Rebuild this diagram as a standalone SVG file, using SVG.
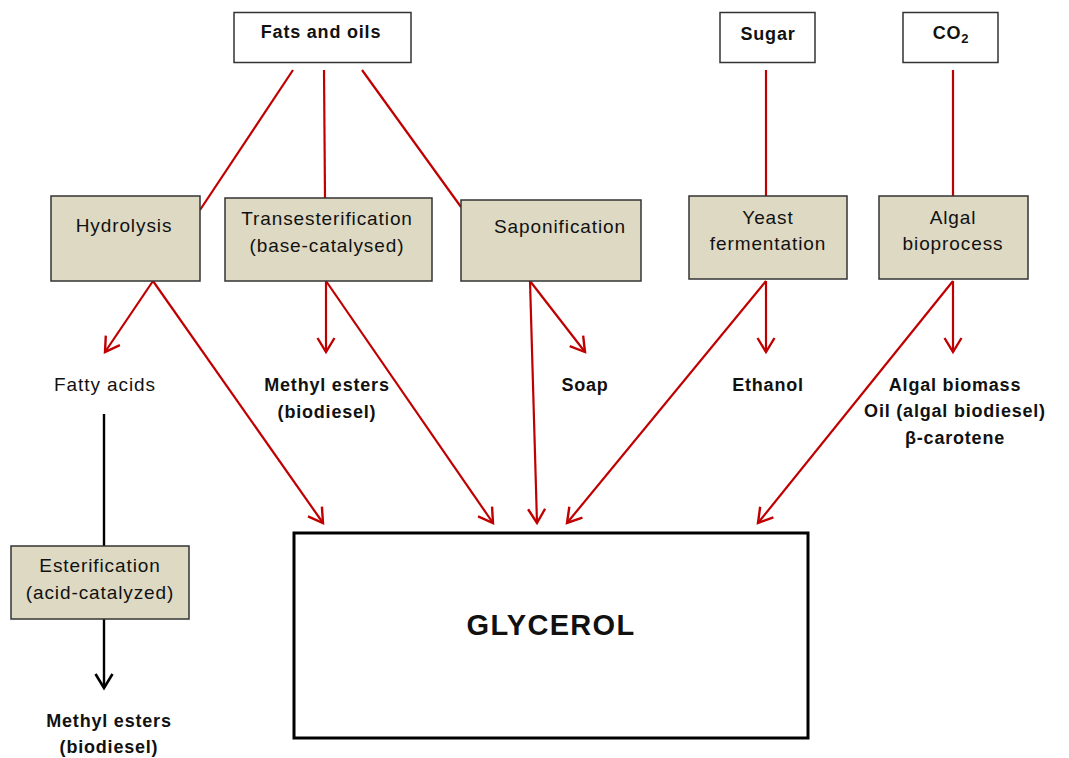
<svg xmlns="http://www.w3.org/2000/svg" width="1069" height="758" viewBox="0 0 1069 758">
<style>
text{font-family:"Liberation Sans",Arial,sans-serif;fill:#111;text-anchor:middle}
.n{font-size:19px;letter-spacing:0.9px}
.b{font-size:18px;font-weight:bold;letter-spacing:0.8px}
.src{fill:#fff;stroke:#333;stroke-width:1.5}
.proc{fill:#DDD9C3;stroke:#333;stroke-width:1.5}
.red{stroke:#C00000;stroke-width:2.2;fill:none}
.blk{stroke:#000;stroke-width:2.4;fill:none}
</style>
<defs>
<marker id="ar" markerUnits="userSpaceOnUse" markerWidth="30" markerHeight="30" viewBox="-15 -15 30 30" refX="0" refY="0" orient="auto">
<path d="M-14,-8.5 L0,0 L-14,8.5" fill="none" stroke="#C00000" stroke-width="2.4"/>
</marker>
<marker id="ab" markerUnits="userSpaceOnUse" markerWidth="30" markerHeight="30" viewBox="-15 -15 30 30" refX="0" refY="0" orient="auto">
<path d="M-14,-8.5 L0,0 L-14,8.5" fill="none" stroke="#000" stroke-width="2.6"/>
</marker>
</defs>
<g id="connectors">
<line class="red" x1="293" y1="70" x2="200" y2="210"/>
<line class="red" x1="324" y1="70" x2="325" y2="198"/>
<line class="red" x1="362" y1="70" x2="461" y2="207"/>
<line class="red" x1="766" y1="70" x2="766" y2="196"/>
<line class="red" x1="953" y1="70" x2="953" y2="196"/>
<line class="red" x1="153" y1="281" x2="105" y2="352" marker-end="url(#ar)"/>
<line class="red" x1="153" y1="281" x2="323" y2="523" marker-end="url(#ar)"/>
<line class="red" x1="326" y1="281" x2="326" y2="352" marker-end="url(#ar)"/>
<line class="red" x1="326" y1="281" x2="493" y2="523" marker-end="url(#ar)"/>
<line class="red" x1="530" y1="281" x2="537" y2="523" marker-end="url(#ar)"/>
<line class="red" x1="530" y1="281" x2="585" y2="352" marker-end="url(#ar)"/>
<line class="red" x1="766" y1="281" x2="766" y2="352" marker-end="url(#ar)"/>
<line class="red" x1="766" y1="281" x2="567" y2="523" marker-end="url(#ar)"/>
<line class="red" x1="953" y1="281" x2="953" y2="352" marker-end="url(#ar)"/>
<line class="red" x1="953" y1="281" x2="758" y2="523" marker-end="url(#ar)"/>
<line class="blk" x1="104" y1="414" x2="104" y2="546"/>
<line class="blk" x1="104" y1="619" x2="104" y2="688" marker-end="url(#ab)"/>
</g>
<g id="fats"><rect class="src" x="234" y="12.5" width="177" height="50"/><text class="b" x="321" y="38">Fats and oils</text></g>
<g id="sugar"><rect class="src" x="720" y="12.5" width="95" height="50"/><text class="b" x="768" y="40">Sugar</text></g>
<g id="co2"><rect class="src" x="903" y="12.5" width="95" height="50"/><text class="b" x="951" y="39">CO<tspan font-size="13" dy="4">2</tspan></text></g>
<g id="hydrolysis"><rect class="proc" x="51" y="196" width="149" height="85"/><text class="n" x="124" y="232">Hydrolysis</text></g>
<g id="transesterification"><rect class="proc" x="225" y="198" width="207" height="83"/><text class="n" x="327" y="225">Transesterification</text><text class="n" x="327" y="252">(base-catalysed)</text></g>
<g id="saponification"><rect class="proc" x="461" y="200" width="180" height="81"/><text class="n" x="560" y="233">Saponification</text></g>
<g id="yeast"><rect class="proc" x="689" y="196" width="158" height="83"/><text class="n" x="768" y="224">Yeast</text><text class="n" x="768" y="250">fermentation</text></g>
<g id="algal"><rect class="proc" x="879" y="196" width="149" height="83"/><text class="n" x="953" y="224">Algal</text><text class="n" x="953" y="250">bioprocess</text></g>
<g id="fatty-acids"><text class="n" x="105" y="391">Fatty acids</text></g>
<g id="methyl-esters-1"><text class="b" x="327" y="391">Methyl esters</text><text class="b" x="327" y="418">(biodiesel)</text></g>
<g id="soap"><text class="b" x="585" y="391">Soap</text></g>
<g id="ethanol"><text class="b" x="768" y="391">Ethanol</text></g>
<g id="algal-products"><text class="b" x="955" y="391">Algal biomass</text><text class="b" x="955" y="417">Oil (algal biodiesel)</text><text class="b" x="955" y="444">β-carotene</text></g>
<g id="esterification"><rect class="proc" x="11" y="546" width="178" height="73"/><text class="n" x="100" y="572">Esterification</text><text class="n" x="100" y="599">(acid-catalyzed)</text></g>
<g id="methyl-esters-2"><text class="b" x="109" y="727">Methyl esters</text><text class="b" x="109" y="753">(biodiesel)</text></g>
<g id="glycerol"><rect x="294" y="533" width="514" height="205" fill="#fff" stroke="#000" stroke-width="3"/><text x="551" y="635" style="font-size:29px;font-weight:bold;letter-spacing:1.3px">GLYCEROL</text></g>
</svg>
